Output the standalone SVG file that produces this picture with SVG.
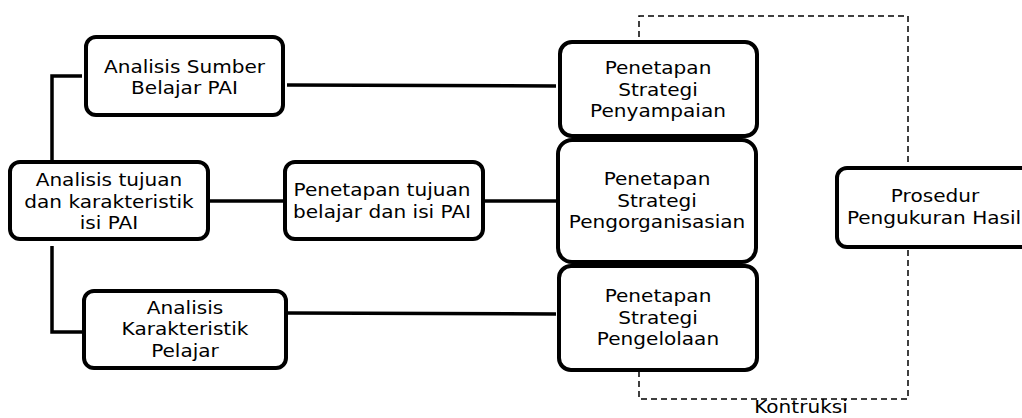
<svg xmlns="http://www.w3.org/2000/svg" width="1022" height="418" viewBox="0 0 1022 418">
<style>
.box{fill:#fff;stroke:#000;stroke-width:4}
.ln{fill:none;stroke:#000;stroke-width:3.5}
.dash{fill:none;stroke:#000;stroke-width:1.5;stroke-dasharray:6 4}
text{font-family:"DejaVu Sans","Open Sans",sans-serif;font-size:18.5px;fill:#000;text-anchor:middle}
</style>
<rect width="1022" height="418" fill="#fff"/>
<g id="connectors">
<polyline class="ln" points="82,76 52,76 52,163"/>
<polyline class="ln" points="52,246 52,332 82,332"/>
<line class="ln" x1="208" y1="201" x2="285" y2="201"/>
<line class="ln" x1="287" y1="85" x2="556" y2="86"/>
<line class="ln" x1="287" y1="313" x2="556" y2="314"/>
<line class="ln" x1="483" y1="201" x2="558" y2="201"/>
<polyline class="dash" points="639,37 639,16 908,16 908,166"/>
<polyline class="dash" points="908,250 908,399 639,399 639,370"/>
</g>
<g id="n-sumber">
<rect class="box" x="86" y="37" width="197" height="78" rx="10"/>
<text transform="translate(184.5,73) scale(1.085,1)">Analisis Sumber</text>
<text transform="translate(184.5,94) scale(1.085,1)">Belajar PAI</text>
</g>
<g id="n-tujuan">
<rect class="box" x="10" y="162" width="198" height="77" rx="10"/>
<text transform="translate(109,186) scale(1.085,1)">Analisis tujuan</text>
<text transform="translate(109,207.5) scale(1.085,1)">dan karakteristik</text>
<text transform="translate(109,229) scale(1.085,1)">isi PAI</text>
</g>
<g id="n-pelajar">
<rect class="box" x="84" y="291" width="202" height="77" rx="10"/>
<text transform="translate(185,313.5) scale(1.085,1)">Analisis</text>
<text transform="translate(185,335) scale(1.085,1)">Karakteristik</text>
<text transform="translate(185,356.5) scale(1.085,1)">Pelajar</text>
</g>
<g id="n-penetapan-tujuan">
<rect class="box" x="285" y="162" width="198" height="77" rx="10"/>
<text transform="translate(382,196) scale(1.085,1)">Penetapan tujuan</text>
<text transform="translate(382,217.5) scale(1.085,1)">belajar dan isi PAI</text>
</g>
<g id="n-penyampaian">
<rect class="box" x="560" y="42" width="197" height="94" rx="12"/>
<text transform="translate(658,74) scale(1.085,1)">Penetapan</text>
<text transform="translate(658,95.5) scale(1.085,1)">Strategi</text>
<text transform="translate(658,117) scale(1.085,1)">Penyampaian</text>
</g>
<g id="n-pengorganisasian">
<rect class="box" x="558" y="140" width="198" height="122" rx="14"/>
<text transform="translate(657,185) scale(1.085,1)">Penetapan</text>
<text transform="translate(657,206.5) scale(1.085,1)">Strategi</text>
<text transform="translate(657,228) scale(1.085,1)">Pengorganisasian</text>
</g>
<g id="n-pengelolaan">
<rect class="box" x="559" y="266" width="198" height="104" rx="12"/>
<text transform="translate(658,302) scale(1.085,1)">Penetapan</text>
<text transform="translate(658,323.5) scale(1.085,1)">Strategi</text>
<text transform="translate(658,345) scale(1.085,1)">Pengelolaan</text>
</g>
<g id="n-prosedur">
<rect class="box" x="837" y="168" width="195" height="79" rx="10"/>
<text transform="translate(935,202) scale(1.085,1)">Prosedur</text>
<text transform="translate(934,223.5) scale(1.085,1)">Pengukuran Hasil</text>
</g>
<g id="n-kontruksi">
<text transform="translate(801,413) scale(1.085,1)">Kontruksi</text>
</g>
</svg>
